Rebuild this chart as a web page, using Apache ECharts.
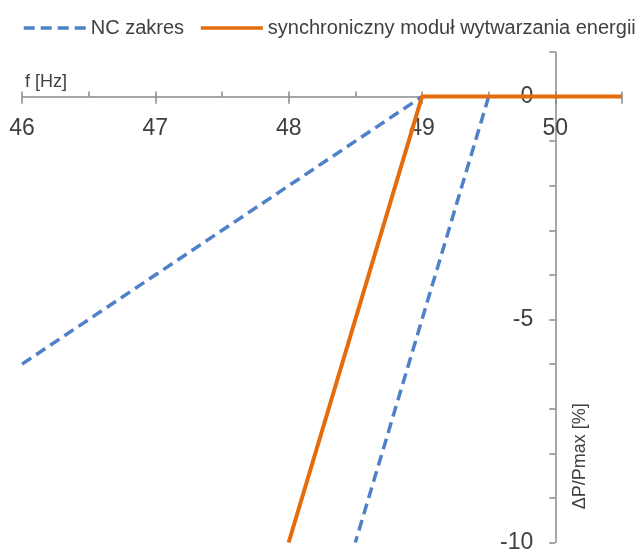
<!DOCTYPE html>
<html>
<head>
<meta charset="utf-8">
<script src="https://cdn.jsdelivr.net/npm/echarts@6/dist/echarts.min.js"></script>
<style>
  html, body { margin: 0; padding: 0; background: #fff; }
  #chart { width: 636px; height: 554px; }
</style>
</head>
<body>
<div id="chart"></div>
<script>
// Frequency (Hz) vs. active power change (% of Pmax)
const ncLowerFreq = [46, 49];
const ncLowerDP = [-6, 0];
const ncUpperFreq = [49.5, 48.5];
const ncUpperDP = [0, -10];
const genFreq = [48, 49, 50.5];
const genDP = [-10, 0, 0];
const yLabelValues = [-10, -5, 0];

const seriesNames = ['NC zakres', 'synchroniczny moduł wytwarzania energii'];
const FONT = '"Liberation Sans", Arial, sans-serif';
const TEXT = '#404040';
const AXIS = '#8a8a8a';
const BLUE = '#4f81c9';
const ORANGE = '#e46c0a';

// plot area: y from 1 (top) to -10 (bottom); the frequency axis sits at 0
const GRID_TOP = 52, GRID_BOTTOM = 9, CHART_H = 554;
const Y_MIN = -10, Y_MAX = 1;
const zeroOffset = (CHART_H - GRID_TOP - GRID_BOTTOM) * (Y_MAX - 0) / (Y_MAX - Y_MIN);

const pairs = (xs, ys) => xs.map((x, i) => [x, ys[i]]);

const chart = echarts.init(document.getElementById('chart'), null, { renderer: 'canvas' });

chart.setOption({
  animation: false,
  backgroundColor: '#ffffff',
  textStyle: { fontFamily: FONT },
  legend: {
    left: 17,
    top: 13,
    width: 619,
    itemWidth: 62,
    itemHeight: 14,
    itemGap: 15,
    data: seriesNames,
    itemStyle: { opacity: 0 },
    lineStyle: { width: 3.5 },
    textStyle: { fontFamily: FONT, fontSize: 20, color: TEXT }
  },
  grid: { left: 22, right: 14, top: GRID_TOP, bottom: GRID_BOTTOM, containLabel: false },
  xAxis: [
    {
      type: 'value',
      min: 46, max: 50.5, interval: 1,
      position: 'top',
      offset: -zeroOffset,
      axisLine: { show: true, onZero: false, lineStyle: { color: AXIS, width: 1.5 } },
      axisTick: { show: true, inside: true, length: 7, lineStyle: { color: AXIS, width: 1.5 } },
      axisLabel: {
        inside: true, margin: 20, fontFamily: FONT, fontSize: 23, color: TEXT,
        formatter: v => (Number.isInteger(v) ? String(v) : '')
      },
      splitLine: { show: false },
      name: 'f [Hz]',
      nameLocation: 'start',
      nameGap: -3,
      nameTextStyle: { fontFamily: FONT, fontSize: 18, color: TEXT, align: 'left', verticalAlign: 'bottom', padding: [0, 0, 6, 0] }
    },
    {
      // half-step ticks drawn above the frequency axis
      type: 'value',
      min: 46, max: 50.5, interval: 0.5,
      position: 'bottom',
      axisLine: { show: false, onZero: true, onZeroAxisIndex: 0 },
      axisTick: { show: true, inside: true, length: 5, lineStyle: { color: AXIS, width: 1.5 } },
      axisLabel: { show: false },
      splitLine: { show: false }
    }
  ],
  yAxis: {
    type: 'value',
    min: Y_MIN, max: Y_MAX, interval: 1,
    position: 'right',
    offset: -66.7,
    axisLine: { show: true, onZero: false, lineStyle: { color: AXIS, width: 1.5 } },
    axisTick: { show: true, inside: true, length: 6, lineStyle: { color: AXIS, width: 1.5 } },
    axisLabel: {
      inside: true, margin: 22, fontFamily: FONT, fontSize: 23, color: TEXT,
      formatter: v => (yLabelValues.includes(v) ? String(v) : '')
    },
    splitLine: { show: false },
    name: 'ΔP/Pmax [%]',
    nameLocation: 'middle',
    nameGap: 16,
    nameTextStyle: { fontFamily: FONT, fontSize: 18, color: TEXT, padding: [0, 318, 0, 0] }
  },
  series: [
    {
      name: seriesNames[0],
      type: 'line',
      xAxisIndex: 0,
      data: pairs(ncLowerFreq, ncLowerDP),
      showSymbol: false, symbol: 'none',
      lineStyle: { color: BLUE, width: 3.5, type: [11, 6] },
      itemStyle: { color: BLUE }
    },
    {
      name: seriesNames[0],
      type: 'line',
      xAxisIndex: 0,
      data: pairs(ncUpperFreq, ncUpperDP),
      showSymbol: false, symbol: 'none',
      lineStyle: { color: BLUE, width: 3.5, type: [11, 6] },
      itemStyle: { color: BLUE }
    },
    {
      name: seriesNames[1],
      type: 'line',
      xAxisIndex: 0,
      data: pairs(genFreq, genDP),
      showSymbol: false, symbol: 'none',
      lineStyle: { color: ORANGE, width: 4 },
      itemStyle: { color: ORANGE }
    }
  ]
});
</script>
</body>
</html>
